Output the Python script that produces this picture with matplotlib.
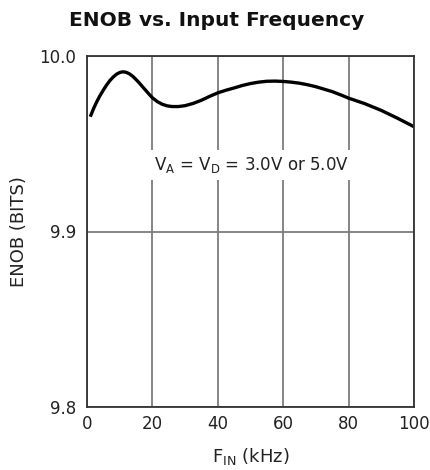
import matplotlib
matplotlib.use("Agg")
import matplotlib.pyplot as plt

plt.rcParams['font.family'] = ['DejaVu Sans']
plt.rcParams['mathtext.fontset'] = 'dejavusans'
plt.rcParams['mathtext.default'] = 'regular'

freq_khz = [1, 2, 3, 4, 5, 6, 7, 8, 9, 10, 11, 12, 13, 14, 15, 16, 17.5, 19,
            20, 21.5, 23, 24.5, 26, 28, 30, 32.5, 35, 37.5, 40, 42.5, 45, 47.5,
            50, 52.5, 55, 57.5, 60, 62.5, 65, 67.5, 70, 72.5, 75, 77.5, 80, 85,
            90, 95, 100]
enob = [9.9654, 9.9700, 9.9740, 9.9775, 9.9806, 9.9835, 9.9860, 9.9880,
        9.9896, 9.9906, 9.9910, 9.9907, 9.9898, 9.9884, 9.9866, 9.9846,
        9.9814, 9.9782, 9.9762, 9.9740, 9.9725, 9.9716, 9.9712, 9.9712,
        9.9717, 9.9730, 9.9748, 9.9770, 9.9790, 9.9805, 9.9818, 9.9832,
        9.9843, 9.9851, 9.9856, 9.9857, 9.9855, 9.9851, 9.9845, 9.9836,
        9.9825, 9.9811, 9.9797, 9.9779, 9.9760, 9.9728, 9.9690, 9.9645,
        9.9597]
x_ticks = [0, 20, 40, 60, 80, 100]
y_ticks = [9.8, 9.9, 10.0]
y_tick_labels = ['9.8', '9.9', '10.0']

fig = plt.figure(figsize=(4.31, 4.70), dpi=100)
ax = fig.add_axes([87/431, 1-407/470, 327/431, 351/470])

ax.set_xlim(0, 100)
ax.set_ylim(9.8, 10.0)
ax.set_xticks(x_ticks)
ax.set_yticks(y_ticks)
ax.set_yticklabels(y_tick_labels)
ax.tick_params(length=0, labelsize=12, colors='#222222')
ax.tick_params(axis='x', pad=6)
ax.tick_params(axis='y', pad=8)
ax.grid(True, color='#7c7c7c', linewidth=1.3)
ax.set_axisbelow(True)
for s in ax.spines.values():
    s.set_color('#333333')
    s.set_linewidth(1.3)

ax.plot(freq_khz, enob, color='black', linewidth=2.4, solid_capstyle='butt',
        solid_joinstyle='round')

ax.text(50.2, 9.935, 'V$_A$ = V$_D$ = 3.0V or 5.0V', ha='center', va='baseline',
        fontsize=12, color='#222222',
        bbox=dict(facecolor='white', edgecolor='none', pad=3.5))

ax.set_xlabel('F$_{IN}$ (kHz)', fontsize=13, color='#222222', labelpad=9)
ax.set_ylabel('ENOB (BITS)', fontsize=13, color='#222222', labelpad=8)
fig.text(217/431, 1-21/470, 'ENOB vs. Input Frequency', ha='center', va='center',
         fontsize=14.5, fontweight='bold', color='#111111')

fig.savefig('out.png', dpi=100)
